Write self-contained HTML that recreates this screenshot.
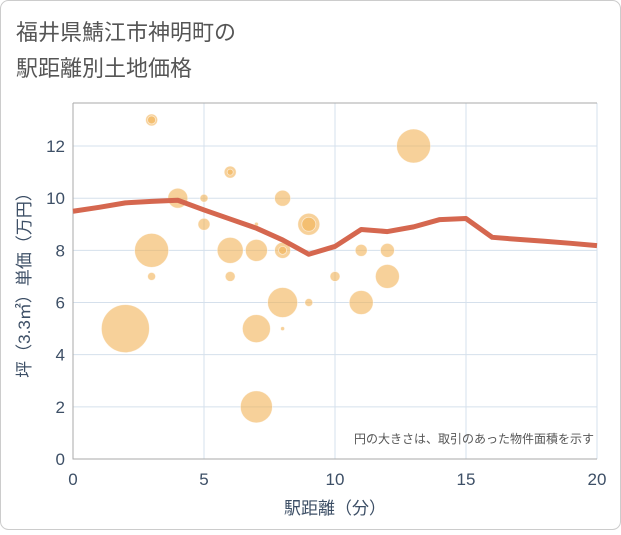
<!DOCTYPE html>
<html><head><meta charset="utf-8"><style>
body{margin:0;background:#fff}
svg text{font-family:"Liberation Sans","Noto Sans CJK JP",sans-serif}
</style></head><body>
<svg width="621" height="530" xmlns="http://www.w3.org/2000/svg">
<rect x="0.5" y="0.5" width="620" height="529" rx="8" fill="#fff" stroke="#ccc"/>
<text x="16" y="40" font-size="22" fill="#555">福井県鯖江市神明町の</text>
<text x="16" y="76" font-size="22" fill="#555">駅距離別土地価格</text>
<g id="plot"></g>
<text x="335" y="514" font-size="17" fill="#3d4f66" text-anchor="middle">駅距離（分）</text>
<text transform="translate(30,281) rotate(-90)" font-size="17" fill="#3d4f66" text-anchor="middle">坪（3.3㎡）単価（万円）</text>
<text x="594" y="443" font-size="12" fill="#555" text-anchor="end">円の大きさは、取引のあった物件面積を示す</text>
</svg>
<script>
const xTicks=[0,5,10,15,20];
const yTicks=[0,2,4,6,8,10,12];
const bubbleX=[2,3,3,3,3,4,5,5,6,6,6,6,7,7,7,7,8,8,8,8,8,9,9,9,10,11,11,12,12,13];
const bubbleY=[5,13,13,8,7,10,10,9,11,11,8,7,9,8,5,2,10,8,8,6,5,9,9,6,7,8,6,8,7,12];
const bubbleR=[24,6,4,17,4,10,4,6,6,3,13,5,2,11,14,16,8,8,4,15,2,11,7,4,5,6,12,7,12,17];
const lineX=[0,1,2,3,4,5,6,7,8,9,10,11,12,13,14,15,16,17,18,19,20];
const lineY=[9.5,9.65,9.82,9.88,9.92,9.55,9.2,8.85,8.4,7.85,8.15,8.8,8.72,8.9,9.18,9.22,8.5,8.42,8.35,8.27,8.18];
const L=73,R=597,T=103,B=459;
const sx=v=>L+(v-0)/20*(R-L);
const sy=v=>B-v/13.65*(B-T);
const NS="http://www.w3.org/2000/svg";
const g=document.getElementById('plot');
function mk(t,a){const e=document.createElementNS(NS,t);for(const k in a)e.setAttribute(k,a[k]);g.appendChild(e);return e;}
xTicks.forEach(v=>{const l=mk('line',{x1:sx(v),x2:sx(v),y1:T,y2:B,stroke:'#d5e0ec','stroke-width':1});

const t=mk('text',{x:sx(v),y:B+26,'font-size':17,fill:'#3d4f66','text-anchor':'middle'});t.textContent=v;
});
yTicks.forEach(v=>{const l=mk('line',{x1:L,x2:R,y1:sy(v),y2:sy(v),stroke:'#d5e0ec','stroke-width':1});

const t=mk('text',{x:L-8,y:sy(v)+6,'font-size':17,fill:'#3d4f66','text-anchor':'end'});t.textContent=v;
});
const fr=mk('path',{d:`M${L},${T}V${B}H${R}M${L},${T}H${R}`,stroke:'#aaa',fill:'none','stroke-width':1});

bubbleX.forEach((x,i)=>{const c=mk('circle',{cx:sx(x),cy:sy(bubbleY[i]),r:bubbleR[i],fill:'#f2b257','fill-opacity':0.6,stroke:'#fff','stroke-opacity':0.6,'stroke-width':0.8});
});
const p=mk('polyline',{points:lineX.map((x,i)=>sx(x)+','+sy(lineY[i])).join(' '),fill:'none',stroke:'#d5674f','stroke-width':5,'stroke-linejoin':'round'});

</script>
</body></html>
